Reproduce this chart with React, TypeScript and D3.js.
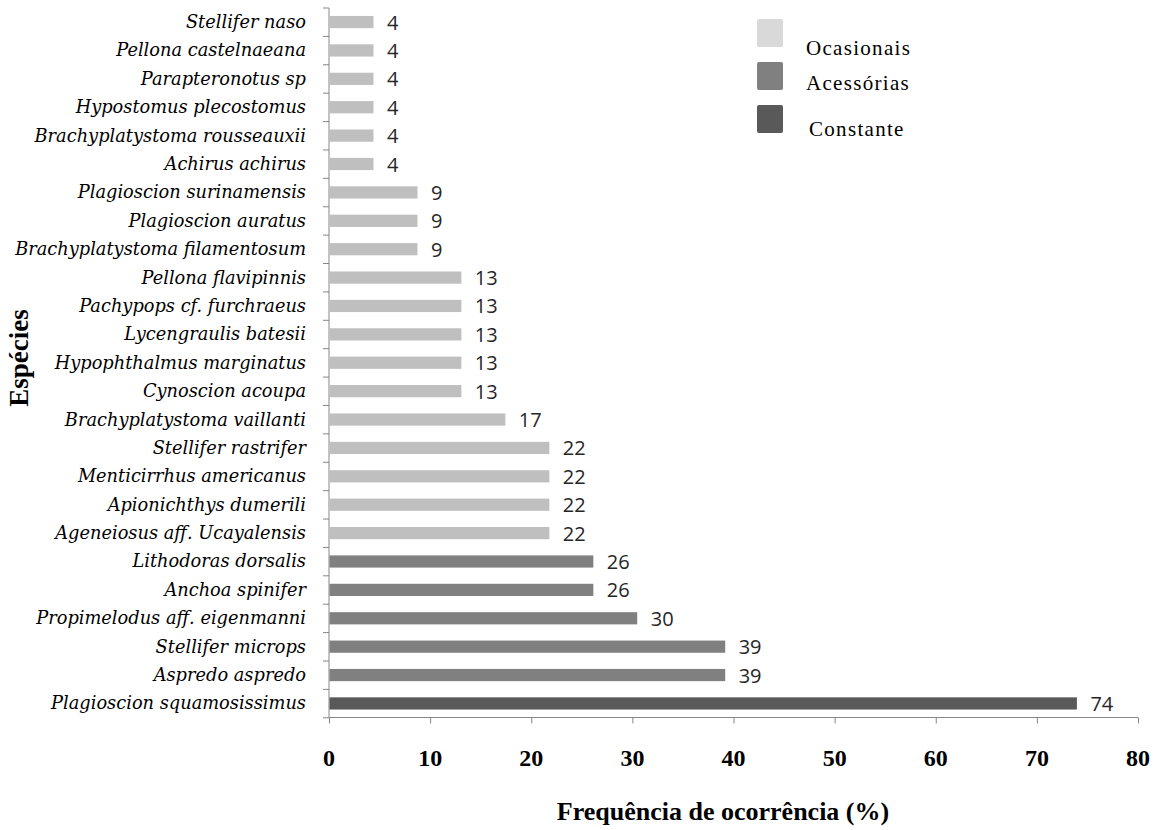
import * as d3 from 'd3';
import { useEffect, useRef } from 'react';

// species top to bottom
const species = [
  'Stellifer naso',
  'Pellona castelnaeana',
  'Parapteronotus sp',
  'Hypostomus plecostomus',
  'Brachyplatystoma rousseauxii',
  'Achirus achirus',
  'Plagioscion surinamensis',
  'Plagioscion auratus',
  'Brachyplatystoma filamentosum',
  'Pellona flavipinnis',
  'Pachypops cf. furchraeus',
  'Lycengraulis batesii',
  'Hypophthalmus marginatus',
  'Cynoscion acoupa',
  'Brachyplatystoma vaillanti',
  'Stellifer rastrifer',
  'Menticirrhus americanus',
  'Apionichthys dumerili',
  'Ageneiosus aff. Ucayalensis',
  'Lithodoras dorsalis',
  'Anchoa spinifer',
  'Propimelodus aff. eigenmanni',
  'Stellifer microps',
  'Aspredo aspredo',
  'Plagioscion squamosissimus',
];
const frequency = [
  4.35, 4.35, 4.35, 4.35, 4.35, 4.35, 8.7, 8.7, 8.7, 13.04, 13.04, 13.04, 13.04, 13.04,
  17.39, 21.74, 21.74, 21.74, 21.74, 26.09, 26.09, 30.43, 39.13, 39.13, 73.91,
];
const category = [
  'Ocasionais', 'Ocasionais', 'Ocasionais', 'Ocasionais', 'Ocasionais', 'Ocasionais',
  'Ocasionais', 'Ocasionais', 'Ocasionais', 'Ocasionais', 'Ocasionais', 'Ocasionais',
  'Ocasionais', 'Ocasionais', 'Ocasionais', 'Ocasionais', 'Ocasionais', 'Ocasionais',
  'Ocasionais', 'Acessórias', 'Acessórias', 'Acessórias', 'Acessórias', 'Acessórias',
  'Constante',
];
const legendNames = ['Ocasionais', 'Acessórias', 'Constante'];
const xTicks = [0, 10, 20, 30, 40, 50, 60, 70, 80];

const barColor: Record<string, string> = {
  Ocasionais: '#bfbfbf',
  Acessórias: '#808080',
  Constante: '#595959',
};
const legendColor: Record<string, string> = {
  Ocasionais: '#d9d9d9',
  Acessórias: '#808080',
  Constante: '#595959',
};

export default function App() {
  const ref = useRef<SVGSVGElement>(null);

  useEffect(() => {
    document.body.style.margin = '0';
    if (!ref.current) return;
    const svg = d3.select(ref.current);
    svg.selectAll('*').remove();

    const data = species.map((name, i) => ({ name, value: frequency[i], cat: category[i] }));

    const x = d3.scaleLinear().domain([0, 80]).range([329, 1138]);
    const y = d3.scaleBand().domain(species).range([8, 717.5]).paddingInner(0.57).paddingOuter(0.28);
    const step = y.step();

    // y axis line + ticks between categories
    const axisColor = '#868686';
    svg.append('line')
      .attr('x1', x(0)).attr('x2', x(0))
      .attr('y1', 8).attr('y2', 717.5)
      .attr('stroke', axisColor).attr('stroke-width', 1);
    svg.append('g')
      .selectAll('line')
      .data(d3.range(species.length + 1))
      .join('line')
      .attr('x1', x(0) - 6).attr('x2', x(0))
      .attr('y1', (i) => 8 + i * step)
      .attr('y2', (i) => 8 + i * step)
      .attr('stroke', axisColor);

    // x axis
    const xAxis = d3.axisBottom(x).tickValues(xTicks).tickSize(6).tickFormat(() => '');
    const gx = svg.append('g').attr('transform', 'translate(0,717.5)').call(xAxis);
    gx.selectAll('line, path').attr('stroke', axisColor);
    gx.select('.domain').attr('d', `M${x(0)},0H${x(80)}`);

    svg.append('g')
      .selectAll('text')
      .data(xTicks)
      .join('text')
      .attr('x', (d) => x(d))
      .attr('y', 766)
      .attr('text-anchor', 'middle')
      .attr('font-family', 'Liberation Serif')
      .attr('font-weight', 'bold')
      .attr('font-size', 24)
      .attr('fill', '#000')
      .text((d) => d);

    // bars
    svg.append('g')
      .selectAll('rect')
      .data(data)
      .join('rect')
      .attr('x', x(0) + 0.5)
      .attr('y', (d) => y(d.name) ?? 0)
      .attr('width', (d) => x(d.value) - x(0))
      .attr('height', y.bandwidth())
      .attr('fill', (d) => barColor[d.cat]);

    // value labels
    svg.append('g')
      .selectAll('text')
      .data(data)
      .join('text')
      .attr('x', (d) => x(d.value) + 14)
      .attr('y', (d) => (y(d.name) ?? 0) + y.bandwidth() / 2 + 7.5)
      .attr('font-family', 'Open Sans')
      .attr('font-size', 20)
      .attr('fill', '#262626')
      .text((d) => Math.round(d.value));

    // species labels
    svg.append('g')
      .selectAll('text')
      .data(data)
      .join('text')
      .attr('x', 306)
      .attr('y', (d) => (y(d.name) ?? 0) + y.bandwidth() / 2 + 6)
      .attr('text-anchor', 'end')
      .attr('font-family', 'DejaVu Serif')
      .attr('font-style', 'italic')
      .attr('font-size', 17.8)
      .attr('fill', '#000')
      .text((d) => d.name);

    // axis titles
    svg.append('text')
      .attr('x', 723)
      .attr('y', 820)
      .attr('text-anchor', 'middle')
      .attr('font-family', 'Liberation Serif')
      .attr('font-weight', 'bold')
      .attr('font-size', 26)
      .text('Frequência de ocorrência (%)');
    svg.append('text')
      .attr('transform', 'translate(28,358) rotate(-90)')
      .attr('text-anchor', 'middle')
      .attr('font-family', 'Liberation Serif')
      .attr('font-weight', 'bold')
      .attr('font-size', 27)
      .text('Espécies');

    // legend
    const legend = svg.append('g');
    const ly = [19, 62, 105];
    const ty = [55, 90, 136];
    legendNames.forEach((name, i) => {
      legend.append('rect')
        .attr('x', 757).attr('y', ly[i])
        .attr('width', 26).attr('height', 28)
        .attr('rx', 2)
        .attr('fill', legendColor[name]);
      legend.append('text')
        .attr('x', i === 2 ? 809 : 806)
        .attr('y', ty[i])
        .attr('font-family', 'Liberation Serif')
        .attr('font-size', 21)
        .attr('letter-spacing', 1.3)
        .attr('fill', '#000')
        .text(name);
    });
  }, []);

  return <svg ref={ref} width={1159} height={830} style={{ display: 'block', background: '#fff' }} />;
}
